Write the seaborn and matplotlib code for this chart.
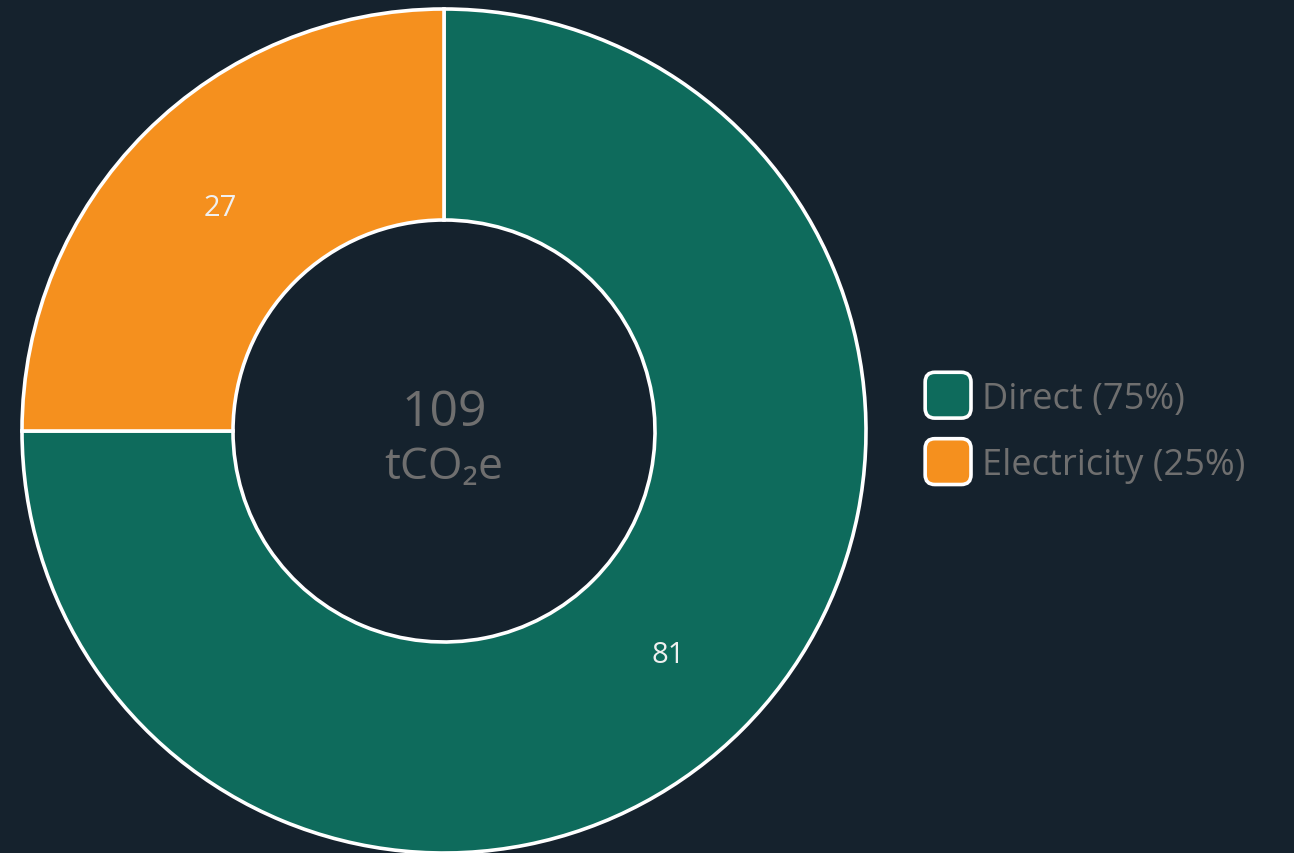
import matplotlib
matplotlib.use("Agg")
import matplotlib.pyplot as plt
import seaborn as sns
from matplotlib.patches import FancyBboxPatch, Patch
from matplotlib.legend_handler import HandlerPatch

# données
categories = ["Direct", "Electricity"]
values = [81, 27]
shares = [75, 25]
total_label = "109"
unit_label = "tCO\u2082e"

bg = "#15222d"
colors = ["#0e6b5c", "#f5901e"]
grey = "#6f6f6f"

sns.set_theme(style="dark", rc={"figure.facecolor": bg, "axes.facecolor": bg})
plt.rcParams["font.family"] = ["Open Sans", "DejaVu Sans"]

fig = plt.figure(figsize=(12.94, 8.54), dpi=100)
ax = fig.add_axes([22 / 1294, 0 / 854, 844 / 1294, 844 / 854])
ax.set_facecolor(bg)

wedges, _, autotexts = ax.pie(
    values,
    colors=colors,
    startangle=90,
    counterclock=False,
    radius=1.0,
    autopct=lambda p: f"{round(p * sum(values) / 100):d}",
    pctdistance=0.75,
    wedgeprops=dict(width=0.5, edgecolor="white", linewidth=2.6),
)
for t in autotexts:
    t.set_color("#f0f0f0")
    t.set_fontsize(21)
ax.set_xlim(-1.0, 1.0)
ax.set_ylim(-1.0, 1.0)
ax.set_aspect("equal")
ax.axis("off")

# texte central
ax.text(0, 0.045, total_label, ha="center", va="center", fontsize=36, color=grey)
ax.text(0, -0.085, unit_label, ha="center", va="center", fontsize=32, color=grey)


# légende avec carrés arrondis (carré de 48 px, soit ~34.5 pt)
class RoundHandler(HandlerPatch):
    def create_artists(self, legend, orig_handle, xdescent, ydescent,
                       width, height, fontsize, trans):
        side = 33.0
        cx = -xdescent + width / 2
        cy = -ydescent + height / 2
        p = FancyBboxPatch((cx - side / 2, cy - side / 2), side, side,
                           boxstyle="round,pad=0,rounding_size=7",
                           facecolor=orig_handle.get_facecolor(),
                           edgecolor="white", linewidth=2.6, transform=trans)
        return [p]


handles = [Patch(facecolor=c) for c in colors]
labels = [f"{c} ({s}%)" for c, s in zip(categories, shares)]
leg = fig.legend(handles, labels, loc="center left",
                 bbox_to_anchor=(921 / 1294, (854 - 432) / 854),
                 frameon=False, fontsize=26, labelcolor=grey,
                 handler_map={Patch: RoundHandler()},
                 handlelength=1.5, handleheight=1.0,
                 handletextpad=0.2, labelspacing=0.8, borderpad=0,
                 borderaxespad=0)

fig.savefig("out.png", dpi=100, facecolor=bg)
